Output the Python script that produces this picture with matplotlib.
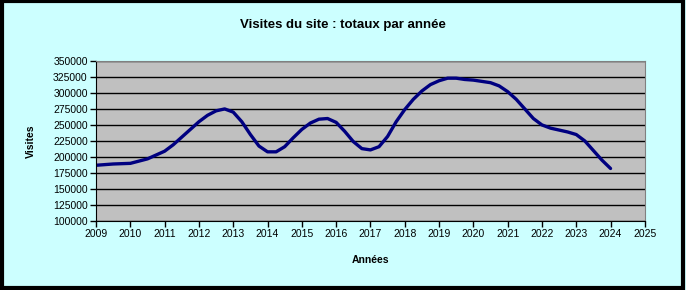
import matplotlib.pyplot as plt
from matplotlib.patches import Rectangle
import numpy as np

# valeurs (année, visites)
annees = [2009.0, 2009.5, 2010.0, 2010.5, 2011.0, 2011.25, 2011.5, 2011.75,
          2012.0, 2012.25, 2012.5, 2012.75, 2013.0, 2013.25, 2013.5, 2013.75,
          2014.0, 2014.25, 2014.5, 2014.75, 2015.0, 2015.25, 2015.5, 2015.75,
          2016.0, 2016.25, 2016.5, 2016.75, 2017.0, 2017.25, 2017.5, 2017.75,
          2018.0, 2018.25, 2018.5, 2018.75, 2019.0, 2019.25, 2019.5, 2019.75,
          2020.0, 2020.25, 2020.5, 2020.75, 2021.0, 2021.25, 2021.5, 2021.75,
          2022.0, 2022.25, 2022.5, 2022.75, 2023.0, 2023.25, 2023.5, 2023.75,
          2024.0]
visites = [187000, 189000, 190000, 197000, 209000, 219000, 231000, 243000,
           255000, 265000, 272000, 275000, 270000, 255000, 235000, 217000,
           208000, 208000, 216000, 230000, 243000, 253000, 259000, 260000,
           254000, 240000, 224000, 213000, 211000, 216000, 232000, 255000,
           274000, 290000, 303000, 313000, 319000, 323000, 323000, 321000,
           320000, 318000, 316000, 311000, 302000, 290000, 275000, 260000,
           250000, 245000, 242000, 239000, 235000, 225000, 210000, 195000,
           182000]
yticks = list(range(100000, 350001, 25000))
xticks = list(range(2009, 2026))

plt.rcParams['font.family'] = ['Liberation Sans', 'DejaVu Sans']

fig = plt.figure(figsize=(6.86, 2.90), dpi=100)
fig.patch.set_facecolor('#ccffff')
fig.patches.append(Rectangle((0.003, 0.006), 0.992, 0.990, transform=fig.transFigure,
                             fill=False, edgecolor='black', linewidth=3))

ax = fig.add_axes([0.140, 0.238, 0.800, 0.552])
ax.set_facecolor('#c0c0c0')
ax.plot(annees, visites, color='#000080', linewidth=2.4, solid_capstyle='round')

ax.set_xlim(2009, 2025)
ax.set_ylim(100000, 350000)
ax.set_xticks(xticks)
ax.set_yticks(yticks)
ax.set_yticklabels([str(v) for v in yticks])
ax.tick_params(labelsize=7.5, direction='out', length=4, width=1, pad=2)
ax.yaxis.grid(True, color='black', linewidth=1)
ax.set_axisbelow(True)
for s in ['top', 'right']:
    ax.spines[s].set_color('#808080')
for s in ['left', 'bottom']:
    ax.spines[s].set_color('black')

ax.set_xlabel('Années', fontsize=7.5, fontweight='bold', labelpad=11)
ax.set_ylabel('Visites', fontsize=7.5, fontweight='bold', labelpad=12)
fig.text(0.5, 0.915, 'Visites du site : totaux par année', ha='center', va='center',
         fontsize=9.5, fontweight='bold')

fig.savefig('out.png', dpi=100, facecolor=fig.get_facecolor())
